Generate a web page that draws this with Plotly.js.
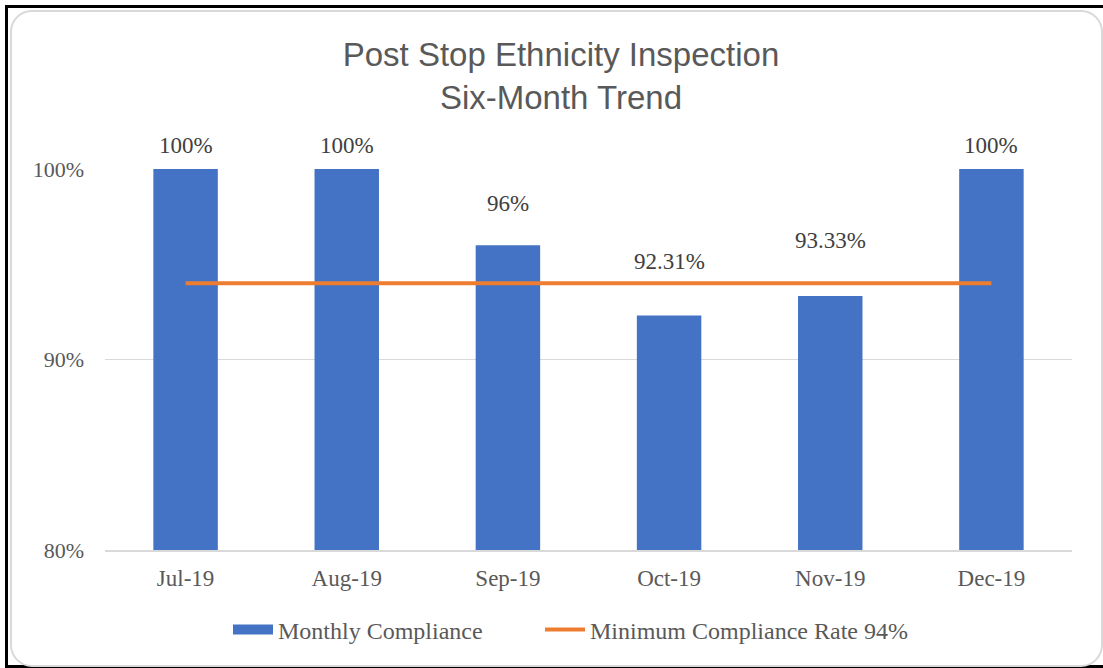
<!DOCTYPE html>
<html><head><meta charset="utf-8">
<script src="https://cdn.plot.ly/plotly-3.0.1.min.js"></script>
<style>
html,body{margin:0;padding:0;background:#fff;width:1103px;height:668px;overflow:hidden;}
#frame{position:absolute;left:5px;top:5px;width:1110px;height:657px;border:3px solid #000;box-sizing:content-box;}
#inner{position:absolute;left:10px;top:10px;width:1089px;height:653px;border:2px solid #d9d9d9;border-radius:22px;}
#chart{position:absolute;left:0;top:0;width:1103px;height:668px;}
</style></head>
<body>
<div id="frame"></div>
<div id="inner"></div>
<div id="chart"></div>
<script>
const categories = ['Jul-19','Aug-19','Sep-19','Oct-19','Nov-19','Dec-19'];
const compliance = [100, 100, 96, 92.31, 93.33, 100];
const labels = ['100%','100%','96%','92.31%','93.33%','100%'];
const minimumRate = [94, 94, 94, 94, 94, 94];
const labelLift = [24, 24, 42, 54, 56, 24];

const serif = '"Liberation Serif","Times New Roman",serif';

const traces = [
  {type:'scatter', mode:'lines', x:[null], y:[null], name:'Monthly Compliance',
   line:{color:'#4472C4', width:11}, hoverinfo:'skip', showlegend:true, legend:'legend'},
  {type:'bar', x:categories, y:compliance, name:'Monthly Compliance',
   marker:{color:'#4472C4'}, width:0.4, hoverinfo:'skip', showlegend:false},
  {type:'scatter', mode:'lines', x:categories, y:minimumRate, name:'Minimum Compliance Rate 94%',
   line:{color:'#ED7D31', width:4}, hoverinfo:'skip', legend:'legend2'}
];

const annotations = categories.map((c,i)=>({
  x:c, y:compliance[i], xref:'x', yref:'y', text:labels[i], showarrow:false,
  yanchor:'middle', yshift:labelLift[i],
  font:{family:serif, size:23, color:'#404040'}
}));

const legendFont = {family:serif, size:24, color:'#595959'};

const layout = {
  width:1103, height:668,
  paper_bgcolor:'rgba(0,0,0,0)', plot_bgcolor:'rgba(0,0,0,0)',
  margin:{l:105, r:31, t:169, b:118},
  title:{text:'Post Stop Ethnicity Inspection<br>Six-Month Trend',
    font:{family:'"Liberation Sans",Arial,sans-serif', size:33, color:'#595959'},
    xref:'container', x:0.5086, xanchor:'center', yref:'container', y:1-66/668, yanchor:'middle'},
  xaxis:{type:'category', showgrid:false, showline:true, linecolor:'#D9D9D9', linewidth:1.5, zeroline:false, ticks:'',
    tickfont:{family:serif, size:23, color:'#595959'}, ticklabelstandoff:7},
  yaxis:{range:[80,100], tickvals:[80,90,100], ticktext:['80%','90%','100%'],
    showgrid:true, gridcolor:'#D9D9D9', gridwidth:1.5, zeroline:false, showline:false, ticks:'',
    tickfont:{family:serif, size:22, color:'#595959'}, ticklabelstandoff:20},
  showlegend:true,
  legend:{orientation:'h', xref:'container', x:228/1103, xanchor:'left', yref:'container', y:1-630/668, yanchor:'middle',
    font:legendFont, itemwidth:40},
  legend2:{orientation:'h', xref:'container', x:540/1103, xanchor:'left', yref:'container', y:1-630/668, yanchor:'middle',
    font:legendFont, itemwidth:40},
  annotations:annotations,
  bargap:0.6
};

Plotly.newPlot('chart', traces, layout, {displayModeBar:false, staticPlot:true});
</script>
</body></html>
